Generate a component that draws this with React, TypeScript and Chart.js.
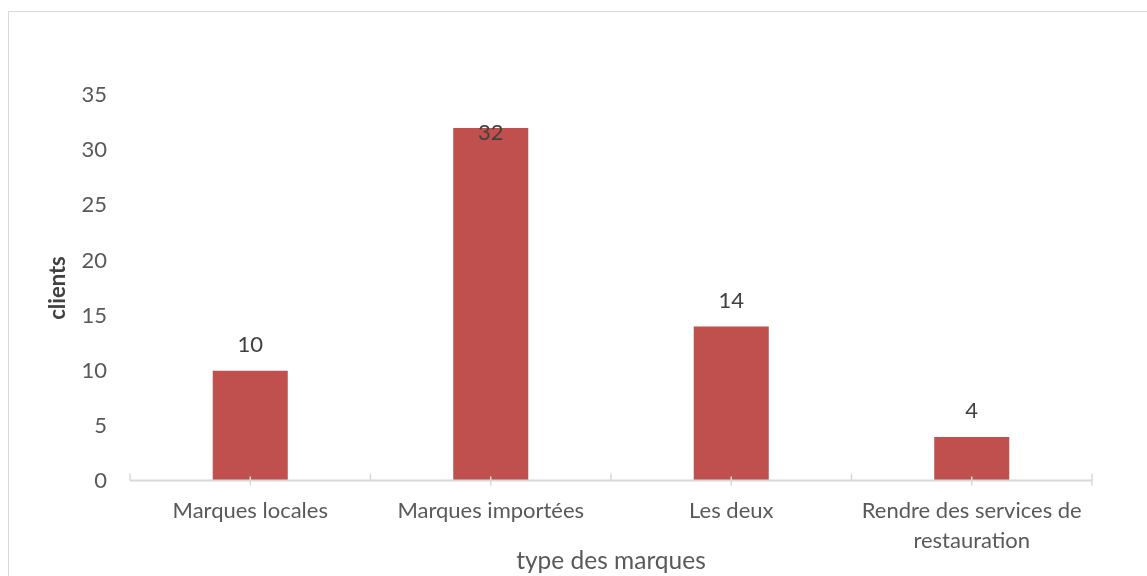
import React, { useEffect, useRef } from "react";
import { Chart, registerables } from "chart.js";

Chart.register(...registerables);

const categories: (string | string[])[] = [
  "Marques locales",
  "Marques importées",
  "Les deux",
  ["Rendre des services de", "restauration"],
];
const clientCounts: number[] = [10, 32, 14, 4];
const yTickMin = 0;
const yTickMax = 35;
const yTickStep = 5;
const yAxisTitle = "clients";
const xAxisTitle = "type des marques";

const FONT = "Lato, 'Noto Sans', sans-serif";
const BAR_COLOR = "#C0504D";
const AXIS_COLOR = "#D9D9D9";
const TEXT_COLOR = "#595959";
const LABEL_COLOR = "#404040";

const excelDecor = {
  id: "excelDecor",
  afterDatasetsDraw(chart: any) {
    const ctx = chart.ctx as CanvasRenderingContext2D;
    const area = chart.chartArea;
    const xs = chart.scales.x;
    const meta = chart.getDatasetMeta(0);
    ctx.save();
    // axis line
    const axisY = area.bottom - 0.5;
    ctx.strokeStyle = AXIS_COLOR;
    ctx.lineWidth = 2;
    ctx.beginPath();
    ctx.moveTo(area.left, axisY);
    ctx.lineTo(area.right, axisY);
    ctx.stroke();
    // tick marks
    ctx.lineWidth = 1.5;
    const n = categories.length;
    const step = n > 1 ? xs.getPixelForValue(1) - xs.getPixelForValue(0) : area.right - area.left;
    for (let i = 0; i <= n; i++) {
      const bx = xs.getPixelForValue(0) - step / 2 + i * step;
      ctx.beginPath();
      ctx.moveTo(bx, axisY - 7);
      ctx.lineTo(bx, axisY + (i === n ? 5 : 0));
      ctx.stroke();
    }
    for (let i = 0; i < n; i++) {
      const cx = xs.getPixelForValue(i);
      ctx.beginPath();
      ctx.moveTo(cx, axisY - 4);
      ctx.lineTo(cx, axisY + 5);
      ctx.stroke();
    }
    // data labels
    ctx.font = `22px ${FONT}`;
    ctx.fillStyle = LABEL_COLOR;
    ctx.textAlign = "center";
    ctx.textBaseline = "middle";
    meta.data.forEach((bar: any, i: number) => {
      let y = bar.y - 26;
      if (y - 12 < area.top) y = bar.y + 5;
      ctx.fillText(String(clientCounts[i]), bar.x, y);
    });
    ctx.restore();
  },
};

export default function App() {
  const canvasRef = useRef<HTMLCanvasElement | null>(null);

  useEffect(() => {
    if (!canvasRef.current) return;
    const chart = new Chart(canvasRef.current, {
      type: "bar",
      data: {
        labels: categories,
        datasets: [
          {
            data: clientCounts,
            backgroundColor: BAR_COLOR,
            borderWidth: 0,
            categoryPercentage: 1,
            barPercentage: 0.312,
          },
        ],
      },
      options: {
        responsive: false,
        animation: false,
        layout: { padding: { left: 0, right: 55, top: 83, bottom: 0 } },
        plugins: {
          legend: { display: false },
          tooltip: { enabled: false },
        },
        scales: {
          x: {
            offset: true,
            grid: { display: false, drawTicks: false },
            border: { display: false },
            ticks: {
              color: TEXT_COLOR,
              font: { family: FONT, size: 22, lineHeight: 1.36 },
              padding: 15,
              maxRotation: 0,
              autoSkip: false,
            },
            title: {
              display: true,
              text: xAxisTitle,
              color: TEXT_COLOR,
              font: { family: FONT, size: 24.5 },
              padding: { top: 0, bottom: 0 },
            },
            afterFit: (scale: any) => {
              scale.height = 95;
            },
          },
          y: {
            min: yTickMin,
            max: yTickMax,
            grid: { display: false, drawTicks: false },
            border: { display: false },
            ticks: {
              stepSize: yTickStep,
              color: TEXT_COLOR,
              font: { family: FONT, size: 22 },
              padding: 23,
            },
            title: {
              display: true,
              text: yAxisTitle,
              color: LABEL_COLOR,
              font: { family: FONT, size: 22, weight: "bold" },
              padding: { top: 36, bottom: 0 },
            },
            afterFit: (scale: any) => {
              scale.width = 121;
            },
          },
        },
      },
      plugins: [excelDecor],
    });
    return () => chart.destroy();
  }, []);

  return (
    <div
      style={{
        position: "absolute",
        left: 8,
        top: 11,
        width: 1139,
        height: 565,
        overflow: "hidden",
        background: "#fff",
      }}
    >
      <div
        style={{
          position: "relative",
          width: 1160,
          height: 600,
          border: `1px solid ${AXIS_COLOR}`,
          boxSizing: "border-box",
        }}
      >
        <canvas
          ref={canvasRef}
          width={1138}
          height={564}
          style={{ position: "absolute", left: 0, top: 0, display: "block" }}
        />
      </div>
    </div>
  );
}
